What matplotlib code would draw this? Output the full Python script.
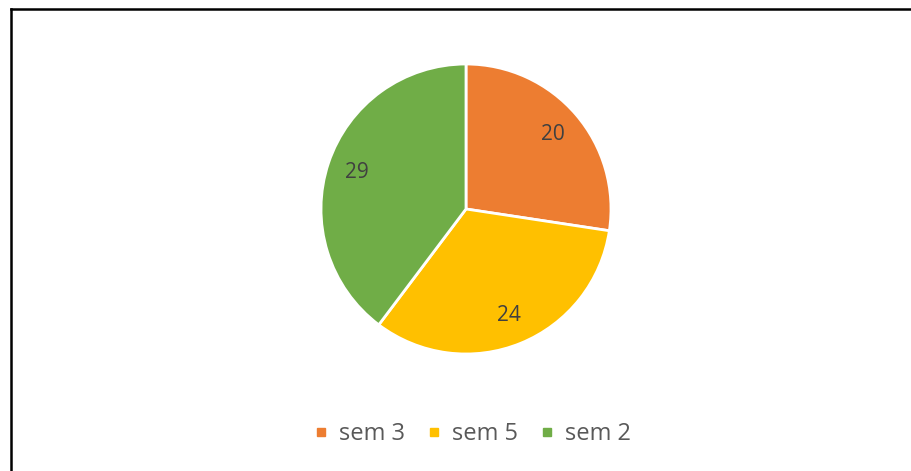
import matplotlib
matplotlib.use("Agg")
import matplotlib.pyplot as plt
from matplotlib.lines import Line2D

categories = ["sem 3", "sem 5", "sem 2"]
values = [20, 24, 29]
colors = ["#ED7D31", "#FFC000", "#70AD47"]

W, H = 911, 471
fig = plt.figure(figsize=(W / 100, H / 100), dpi=100)
fig.patch.set_facecolor("white")

cx, cy, r = 466, 209, 145
ax = fig.add_axes([(cx - r) / W, (H - cy - r) / H, 2 * r / W, 2 * r / H])
wedges, texts, autotexts = ax.pie(
    values, colors=colors, startangle=90, counterclock=False,
    autopct=lambda p: "", pctdistance=0.79,
    wedgeprops=dict(edgecolor="white", linewidth=2),
)
for at, v in zip(autotexts, values):
    at.set_text(str(v))
    at.set_fontsize(15)
    at.set_color("#404040")
    at.set_family("Open Sans")
ax.set_xlim(-1, 1)
ax.set_ylim(-1, 1)
ax.set_aspect("equal")
ax.axis("off")

handles = [Line2D([0], [0], marker="s", linestyle="none", markersize=6,
                  markerfacecolor=c, markeredgecolor=c) for c in colors]
leg = fig.legend(handles, categories, loc="center", bbox_to_anchor=(473 / W, 1 - 434 / H),
                 ncol=3, frameon=False, handlelength=0.5, handletextpad=0.5,
                 columnspacing=1.0, borderpad=0, borderaxespad=0,
                 prop={"family": "Open Sans", "size": 17})
for t in leg.get_texts():
    t.set_color("#595959")

# border (top and left visible)
fig.add_artist(Line2D([10.5 / W, 1.0], [1 - 9 / H, 1 - 9 / H], color="#000000", linewidth=1.8,
                      transform=fig.transFigure))
fig.add_artist(Line2D([11 / W, 11 / W], [0, 1 - 9 / H], color="#000000", linewidth=1.8,
                      transform=fig.transFigure))

fig.savefig("out.png", dpi=100, facecolor="white")
